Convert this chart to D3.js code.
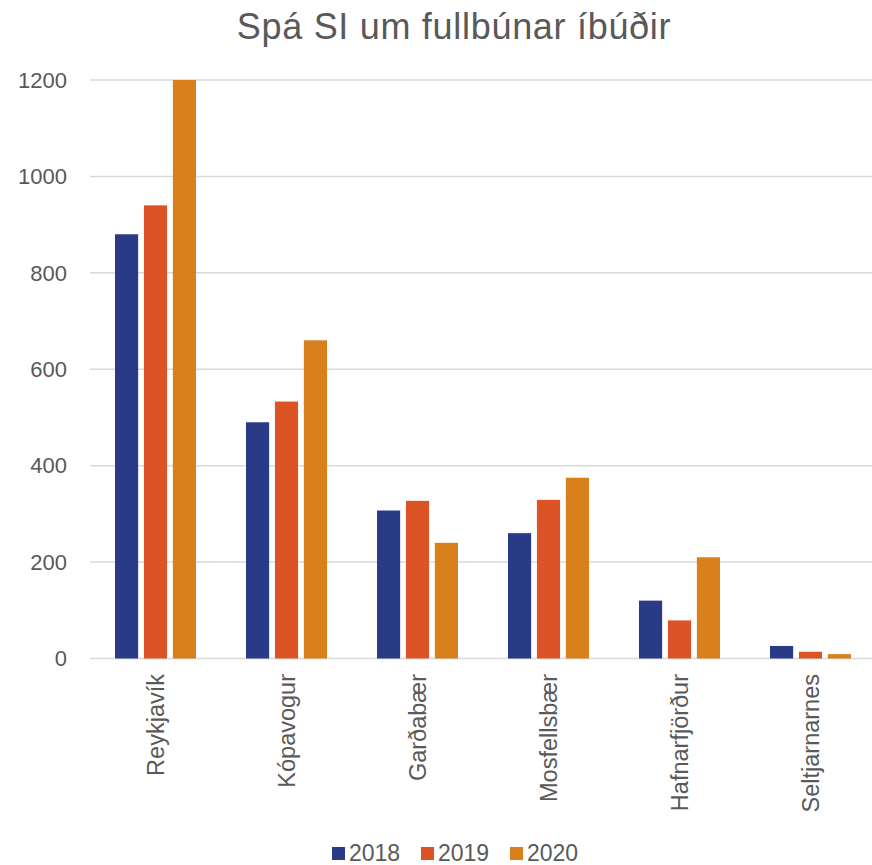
<!DOCTYPE html>
<html>
<head>
<meta charset="utf-8">
<script src="https://cdn.jsdelivr.net/npm/d3@7"></script>
<style>
  body { margin: 0; background: #fff; }
  text { font-family: "Liberation Sans", Arial, sans-serif; fill: #595959; }
</style>
</head>
<body>
<svg id="chart"></svg>
<script>
var width = 872;
var height = 865;

// data
var categories = ["Reykjavík", "Kópavogur", "Garðabær", "Mosfellsbær", "Hafnarfjörður", "Seltjarnarnes"];
var years = ["2018", "2019", "2020"];
var v2018 = [880, 490, 307, 260, 120, 26];
var v2019 = [940, 533, 327, 329, 79, 14];
var v2020 = [1200, 660, 240, 375, 210, 9];
var yTicks = [0, 200, 400, 600, 800, 1000, 1200];
var colors = ["#293b87", "#dc5325", "#d8811c"];

var series = [v2018, v2019, v2020];

var svg = d3.select("#chart")
  .attr("width", width)
  .attr("height", height);

var x = d3.scaleBand()
  .domain(categories)
  .range([90, 876])
  .paddingInner(0)
  .paddingOuter(0);

var x1 = d3.scaleBand()
  .domain(years)
  .range([25, 131 - 25])
  .paddingInner(0.2);

var y = d3.scaleLinear()
  .domain([0, 1200])
  .range([658.5, 80]);

// title
svg.append("text")
  .attr("x", 454)
  .attr("y", 39)
  .attr("text-anchor", "middle")
  .style("font-size", "36px")
  .style("letter-spacing", "0.7px")
  .text("Spá SI um fullbúnar íbúðir");

// gridlines
svg.append("g")
  .selectAll("line")
  .data(yTicks)
  .enter()
  .append("line")
  .attr("x1", 90)
  .attr("x2", width)
  .attr("y1", function(d) { return y(d); })
  .attr("y2", function(d) { return y(d); })
  .style("stroke", "#d9d9d9")
  .style("stroke-width", 1.5);

// y labels
svg.append("g")
  .selectAll("text")
  .data(yTicks)
  .enter()
  .append("text")
  .attr("x", 67)
  .attr("y", function(d) { return y(d); })
  .attr("dy", "0.35em")
  .attr("text-anchor", "end")
  .style("font-size", "22px")
  .text(function(d) { return d; });

// bars
var groups = svg.append("g")
  .selectAll("g")
  .data(categories)
  .enter()
  .append("g")
  .attr("transform", function(d) { return "translate(" + x(d) + ",0)"; });

groups.selectAll("rect")
  .data(function(d, i) {
    return years.map(function(yr, j) { return { year: yr, value: series[j][i], idx: j }; });
  })
  .enter()
  .append("rect")
  .attr("x", function(d) { return x1(d.year); })
  .attr("width", x1.bandwidth())
  .attr("y", function(d) { return y(d.value); })
  .attr("height", function(d) { return y(0) - y(d.value); })
  .style("fill", function(d) { return colors[d.idx]; });

// x labels
svg.append("g")
  .selectAll("text")
  .data(categories)
  .enter()
  .append("text")
  .attr("transform", function(d) {
    return "translate(" + (x(d) + x.bandwidth() / 2 + 8) + ",674) rotate(-90)";
  })
  .attr("text-anchor", "end")
  .style("font-size", "23.5px")
  .text(function(d) { return d; });

// legend
var legendX = [332, 421, 510];
var legend = svg.append("g")
  .selectAll("g")
  .data(years)
  .enter()
  .append("g")
  .attr("transform", function(d, i) { return "translate(" + legendX[i] + ",847)"; });

legend.append("rect")
  .attr("width", 13)
  .attr("height", 13)
  .style("fill", function(d, i) { return colors[i]; });

legend.append("text")
  .attr("x", 17)
  .attr("y", 14)
  .style("font-size", "23px")
  .text(function(d) { return d; });
</script>
</body>
</html>
